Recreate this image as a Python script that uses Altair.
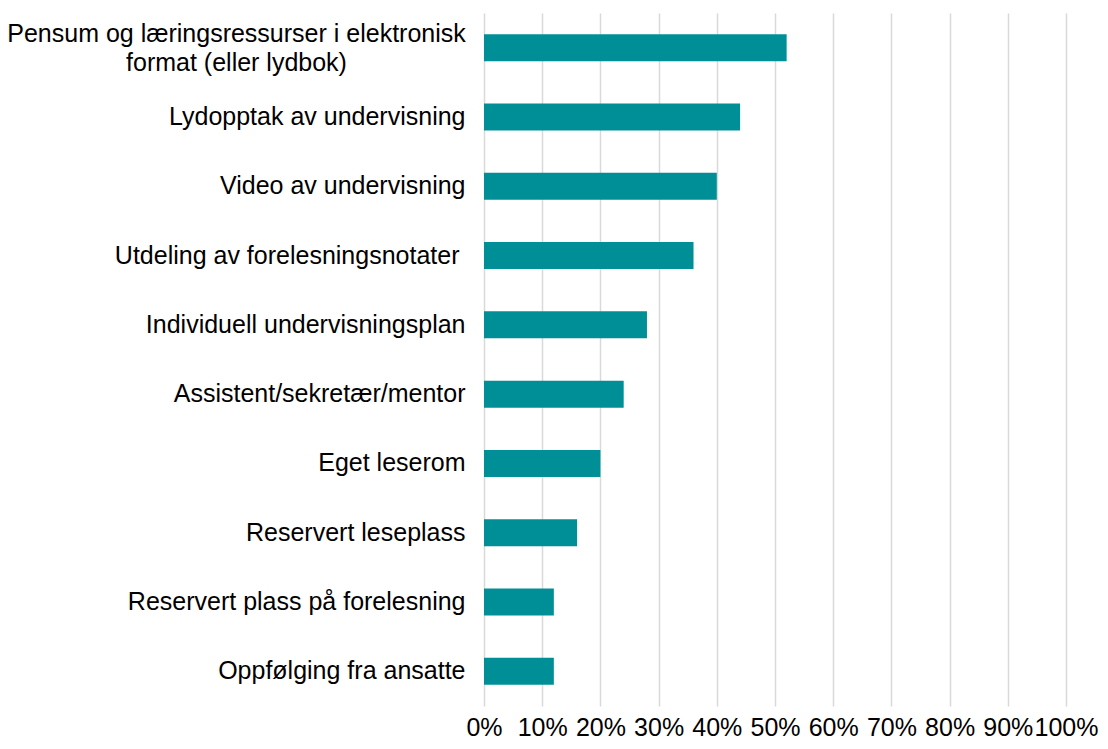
import altair as alt
import pandas as pd

categories = [
    "Pensum og læringsressurser i elektronisk|format (eller lydbok)",
    "Lydopptak av undervisning",
    "Video av undervisning",
    "Utdeling av forelesningsnotater",
    "Individuell undervisningsplan",
    "Assistent/sekretær/mentor",
    "Eget leserom",
    "Reservert leseplass",
    "Reservert plass på forelesning",
    "Oppfølging fra ansatte",
]
values = [0.52, 0.44, 0.40, 0.36, 0.28, 0.24, 0.20, 0.16, 0.12, 0.12]
x_ticks = [0, 0.1, 0.2, 0.3, 0.4, 0.5, 0.6, 0.7, 0.8, 0.9, 1.0]

df = pd.DataFrame({"kategori": categories, "andel": values})

FONT = "Liberation Sans"
FIRST = "indexof(datum.value, 'Pensum') == 0"
UTD = "indexof(datum.value, 'Utdeling') == 0"

chart = (
    alt.Chart(df)
    .mark_bar(color="#008F96")
    .encode(
        x=alt.X(
            "andel:Q",
            scale=alt.Scale(domain=[0, 1], nice=False),
            axis=alt.Axis(
                values=x_ticks,
                format=".0%",
                title=None,
                grid=True,
                gridColor="#D9D9D9",
                gridWidth=1.5,
                domain=False,
                ticks=False,
                labelFlush=False,
                labelOverlap=False,
                labelFont=FONT,
                labelFontSize=25,
                labelColor="#000000",
                labelPadding=9,
            ),
        ),
        y=alt.Y(
            "kategori:N",
            sort=None,
            scale=alt.Scale(paddingInner=0.61, paddingOuter=0.305),
            axis=alt.Axis(
                title=None,
                domain=False,
                ticks=False,
                grid=False,
                labelExpr="split(datum.label, '|')",
                labelFont=FONT,
                labelFontSize=25,
                labelColor="#000000",
                labelAlign={"condition": {"test": FIRST, "value": "center"}, "value": "right"},
                labelPadding={
                    "condition": [
                        {"test": FIRST, "value": 248},
                        {"test": UTD, "value": 25},
                    ],
                    "value": 19,
                },
                labelOffset={"condition": {"test": FIRST, "value": -14}, "value": 0},
                labelLineHeight=29,
                labelLimit=0,
            ),
        ),
    )
    .properties(
        width=582,
        height=693,
        autosize=alt.AutoSizeParams(type="none"),
        padding={"left": 476, "top": 5, "right": 34, "bottom": 35},
    )
    .configure_view(stroke=None)
)

chart.save("out.html", embed_options={"renderer": "svg", "actions": False})
